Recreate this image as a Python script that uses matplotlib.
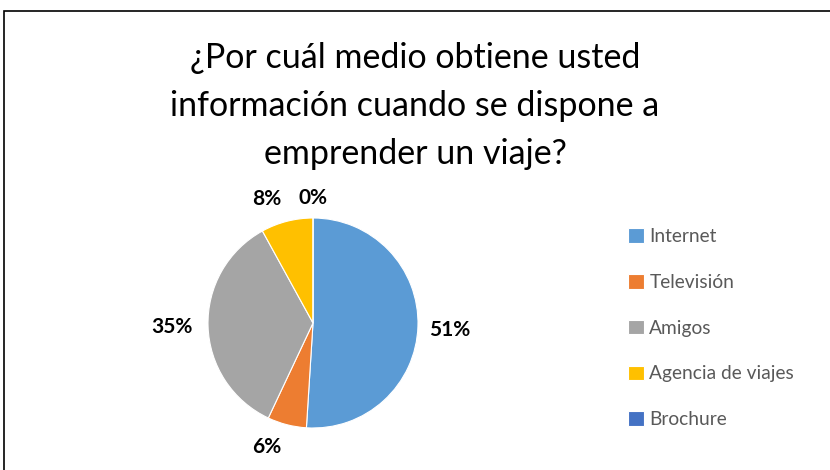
import numpy as np
import matplotlib
matplotlib.use('Agg')
import matplotlib.pyplot as plt
from matplotlib.patches import Rectangle

# Data
categories = ['Internet', 'Televisión', 'Amigos', 'Agencia de viajes', 'Brochure']
values = [51, 6, 35, 8, 0]
pct_labels = ['51%', '6%', '35%', '8%', '0%']
colors = ['#5B9BD5', '#ED7D31', '#A5A5A5', '#FFC000', '#4472C4']

title = '¿Por cuál medio obtiene usted\ninformación cuando se dispone a\nemprender un viaje?'

plt.rcParams['font.family'] = ['Lato', 'DejaVu Sans']

W, H = 830, 470
fig = plt.figure(figsize=(W / 100, H / 100), dpi=100)

# border (right/bottom edges fall outside the image)
fig.patches.append(Rectangle((4 / W, -0.05), 1.2, 1 - 11 / H + 0.05,
                             transform=fig.transFigure, fill=False,
                             edgecolor='black', linewidth=1.2))

fig.text(415 / W, 1 - 106 / H, title, ha='center', va='center',
         fontsize=24.5, color='black', linespacing=1.62)

# pie axes: full figure, 105 px per data unit, centre at (313, 323) px
cx, cy, r = 313, 323, 105
ax = fig.add_axes([0, 0, 1, 1])
wedges, _ = ax.pie(values, colors=colors, startangle=90, counterclock=False,
                   radius=1, wedgeprops=dict(edgecolor='white', linewidth=0.8))
ax.set_xlim(-cx / r, (W - cx) / r)
ax.set_ylim(-(H - cy) / r, cy / r)
ax.set_aspect('equal', adjustable='box')
ax.axis('off')

# label positions (radial distance, angle tweak) per slice
dists = [1.30, 1.26, 1.34, 1.26, 1.19]
tweaks = [-1, -6, 0, 6, 0]
for w, lab, d, t in zip(wedges, pct_labels, dists, tweaks):
    ang = np.deg2rad((w.theta1 + w.theta2) / 2 + t)
    ax.text(d * np.cos(ang), d * np.sin(ang), lab, ha='center', va='center',
            fontsize=15, fontweight='bold', color='black')

leg = fig.legend(wedges, categories, loc='upper left',
                 bbox_to_anchor=(611 / W, 1 - 211 / H), frameon=False,
                 handlelength=0.8, handleheight=0.8, handletextpad=0.3,
                 labelspacing=1.5, fontsize=13.8)
for txt in leg.get_texts():
    txt.set_color('#595959')

fig.savefig('out.png', dpi=100)
